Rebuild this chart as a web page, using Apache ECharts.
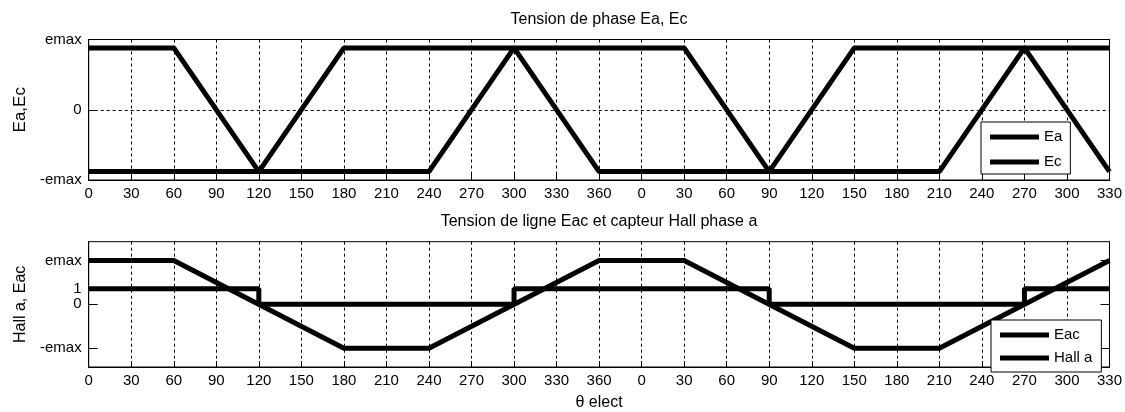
<!DOCTYPE html>
<html>
<head>
<meta charset="utf-8">
<script src="https://cdn.jsdelivr.net/npm/echarts@6/dist/echarts.min.js"></script>
<style>
html,body{margin:0;padding:0;background:#fff;}
#c{width:1125px;height:412px;}
</style>
</head>
<body>
<div id="c"></div>
<script>
// ---- data ----
const xTickLabels = ['0','30','60','90','120','150','180','210','240','270','300','330','360',
                     '0','30','60','90','120','150','180','210','240','270','300','330'];
const topYTickValues = [-1, 0, 1];
const topYTickLabels = ['-emax', '0', 'emax'];
const botYTickValues = [-2.8, 0, 1, 2.8];
const botYTickLabels = ['-emax', '0', '1', 'emax'];

const eaX = [0, 60, 120, 240, 300, 420, 480, 600, 660, 720];
const eaY = [0.88, 0.88, -0.88, -0.88, 0.88, 0.88, -0.88, -0.88, 0.88, 0.88];
const ecX = [0, 120, 180, 300, 360, 480, 540, 660, 720];
const ecY = [-0.88, -0.88, 0.88, 0.88, -0.88, -0.88, 0.88, 0.88, -0.88];

const eacX = [0, 60, 180, 240, 360, 420, 540, 600, 720];
const eacY = [2.8, 2.8, -2.8, -2.8, 2.8, 2.8, -2.8, -2.8, 2.8];
const hallX = [0, 120, 120, 300, 300, 480, 480, 660, 660, 720];
const hallY = [1, 1, 0, 0, 1, 1, 0, 0, 1, 1];

const zip = (xs, ys) => xs.map((x, i) => [x, ys[i]]);
const FONT = "'Liberation Sans', Arial, sans-serif";

function xAxisCfg(gridIndex, name) {
  return {
    type: 'value', gridIndex: gridIndex, min: 0, max: 720, interval: 30,
    name: name || '', nameLocation: 'middle', nameGap: 28,
    nameTextStyle: { fontFamily: FONT, fontSize: 16, color: '#000' },
    axisLine: { show: true, onZero: false, lineStyle: { color: '#000', width: 1 } },
    axisTick: { show: true, inside: true, length: 6, lineStyle: { color: '#000' } },
    axisLabel: {
      fontFamily: FONT, fontSize: 15, color: '#000', margin: 6,
      formatter: v => xTickLabels[Math.round(v / 30)]
    },
    splitLine: { show: true, lineStyle: { color: '#000', width: 1, type: [3, 3] } }
  };
}

const chart = echarts.init(document.getElementById('c'));
chart.setOption({
  animation: false,
  backgroundColor: '#fff',
  title: [
    { text: 'Tension de phase Ea, Ec', left: 599, top: 12, textAlign: 'center', padding: 0,
      textStyle: { fontFamily: FONT, fontSize: 16, fontWeight: 'normal', color: '#000' } },
    { text: 'Tension de ligne Eac et capteur Hall phase a', left: 599, top: 214, textAlign: 'center', padding: 0,
      textStyle: { fontFamily: FONT, fontSize: 16, fontWeight: 'normal', color: '#000' } }
  ],
  grid: [
    { left: 88.7, right: 15, top: 39.5, height: 140.5, show: true, borderColor: '#000', borderWidth: 1, backgroundColor: 'transparent' },
    { left: 88.7, right: 15, top: 241.7, height: 128.3, show: true, borderColor: '#000', borderWidth: 1, backgroundColor: 'transparent' }
  ],
  legend: [
    { data: ['Ea', 'Ec'], orient: 'vertical', left: 981, top: 122,
      backgroundColor: '#fff', borderColor: '#000', borderWidth: 1, borderRadius: 0,
      padding: [6, 8, 3, 9], itemWidth: 49, itemHeight: 5, itemGap: 7, icon: 'rect',
      textStyle: { fontFamily: FONT, fontSize: 15, color: '#000', lineHeight: 18 } },
    { data: ['Eac', 'Hall a'], orient: 'vertical', left: 991, top: 320,
      backgroundColor: '#fff', borderColor: '#000', borderWidth: 1, borderRadius: 0,
      padding: [6, 9, 5, 9], itemWidth: 49, itemHeight: 5, itemGap: 5, icon: 'rect',
      textStyle: { fontFamily: FONT, fontSize: 15, color: '#000', lineHeight: 18 } }
  ],
  xAxis: [ xAxisCfg(0), xAxisCfg(1, 'θ elect') ],
  yAxis: [
    { type: 'value', gridIndex: 0, min: -1, max: 1, interval: 1,
      name: 'Ea,Ec', nameLocation: 'middle', nameGap: 60,
      nameTextStyle: { fontFamily: FONT, fontSize: 17, color: '#000' },
      axisLine: { show: true, lineStyle: { color: '#000' } },
      axisTick: { show: true, inside: true, length: 6, lineStyle: { color: '#000' } },
      axisLabel: { fontFamily: FONT, fontSize: 15, color: '#000', margin: 7,
        formatter: v => { const i = topYTickValues.indexOf(v); return i >= 0 ? topYTickLabels[i] : ''; } },
      splitLine: { show: true, lineStyle: { color: '#000', width: 1, type: [3, 3] } } },
    { type: 'value', gridIndex: 1, min: -4, max: 4,
      name: 'Hall a, Eac', nameLocation: 'middle', nameGap: 60,
      nameTextStyle: { fontFamily: FONT, fontSize: 16, color: '#000' },
      axisLine: { show: true, lineStyle: { color: '#000' } },
      axisTick: { show: true, inside: true, length: 9, customValues: botYTickValues, lineStyle: { color: '#000' } },
      axisLabel: { fontFamily: FONT, fontSize: 15, color: '#000', margin: 7, customValues: botYTickValues,
        formatter: v => { const i = botYTickValues.findIndex(t => Math.abs(t - v) < 1e-6); return i >= 0 ? botYTickLabels[i] : ''; } },
      splitLine: { show: false } },
    { type: 'value', gridIndex: 1, min: -4, max: 4, position: 'right',
      axisLine: { show: true, lineStyle: { color: '#000' } },
      axisTick: { show: true, inside: true, length: 9, customValues: botYTickValues, lineStyle: { color: '#000' } },
      axisLabel: { show: false }, splitLine: { show: false } }
  ],
  series: [
    { name: 'Ea', type: 'line', xAxisIndex: 0, yAxisIndex: 0, data: zip(eaX, eaY),
      showSymbol: false, lineStyle: { color: '#000', width: 5 }, itemStyle: { color: '#000' } },
    { name: 'Ec', type: 'line', xAxisIndex: 0, yAxisIndex: 0, data: zip(ecX, ecY),
      showSymbol: false, lineStyle: { color: '#000', width: 5 }, itemStyle: { color: '#000' } },
    { name: 'Eac', type: 'line', xAxisIndex: 1, yAxisIndex: 1, data: zip(eacX, eacY),
      showSymbol: false, lineStyle: { color: '#000', width: 5 }, itemStyle: { color: '#000' } },
    { name: 'Hall a', type: 'line', xAxisIndex: 1, yAxisIndex: 1, data: zip(hallX, hallY),
      showSymbol: false, lineStyle: { color: '#000', width: 5 }, itemStyle: { color: '#000' } }
  ]
});
</script>
</body>
</html>
